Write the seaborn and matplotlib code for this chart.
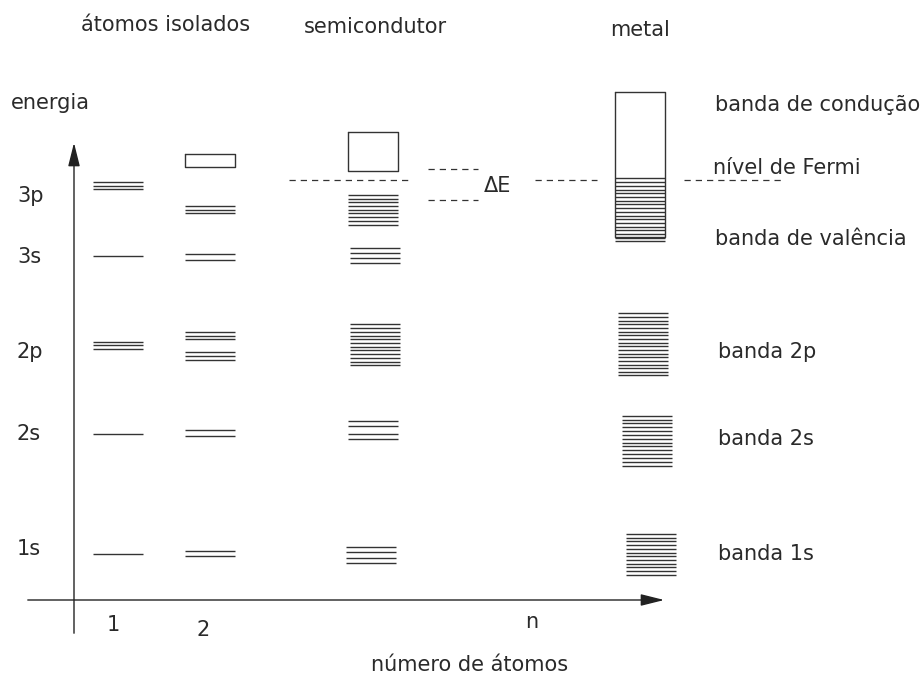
import matplotlib
matplotlib.use("Agg")
import matplotlib.pyplot as plt
import seaborn as sns
import pandas as pd

sns.set_theme(style="white")
plt.rcParams['font.family'] = ['DejaVu Sans']

# ---- level data (pixel-like diagram coordinates) ----
atom1_levels = [182, 186, 189, 256, 342, 345, 349, 434, 554]
atom2_levels = [206, 210, 213, 254, 260, 332, 336, 339, 352, 356, 360, 430, 436, 551, 556]
semi_3p = [195, 198.7, 202.3, 206, 209.7, 213.3, 217.3, 221, 224.7]
semi_3s = [248, 253, 258, 263]
semi_2p = [324.3, 327.7, 332, 335.7, 339.3, 343, 346.7, 350.3, 354, 357.7, 361.7, 365.3]
semi_2s = [421, 426.3, 433.7, 439]
semi_1s = [547, 552.3, 558, 563.3]
metal_val = [178.3, 182, 185.7, 189.5, 193.2, 197, 200.6, 204.4, 208.1, 211.8, 215.5, 219.3,
             223, 226.7, 230.4, 234, 237.5, 241.2]
metal_2p = [313.3, 317, 320.6, 324.3, 328, 331.6, 335.3, 339, 342.6, 346.3, 350, 353.6,
            357.3, 361, 364.6, 368.3, 371.7, 375]
metal_2s = [415.7, 419.5, 423.3, 427.2, 431, 434.8, 438.7, 442.5, 446.3, 450.2, 454, 457.8,
            461.8, 465.7]
metal_1s = [534, 537.7, 541.4, 545.1, 548.8, 552.5, 556.3, 560, 563.7, 567.4, 571.1, 575]

groups = [
    ("atom1", 93, 143, atom1_levels),
    ("atom2", 185, 235, atom2_levels),
    ("semi_3p", 348, 398, semi_3p),
    ("semi_3s", 350, 400, semi_3s),
    ("semi_2p", 350, 400, semi_2p),
    ("semi_2s", 348, 398, semi_2s),
    ("semi_1s", 346, 396, semi_1s),
    ("metal_val", 615, 665, metal_val),
    ("metal_2p", 618, 668, metal_2p),
    ("metal_2s", 622, 672, metal_2s),
    ("metal_1s", 626, 676, metal_1s),
]
rows = []
for name, x0, x1, ys in groups:
    for y in ys:
        rows.append({"group": name, "x0": x0, "x1": x1, "y": y})
levels = pd.DataFrame(rows)

# empty boxes (conduction levels): x0, x1, y_top, y_bottom
boxes = [(185.3, 235.3, 154.3, 167.3), (348.3, 398.3, 132.3, 171), (614.7, 664.7, 91.7, 236.7)]

axis_labels = ["3p", "3s", "2p", "2s", "1s"]
axis_label_y = [196, 257, 352, 434, 549]
band_labels = ["banda de condução", "nível de Fermi", "banda de valência",
               "banda 2p", "banda 2s", "banda 1s"]
band_label_y = [105, 168, 239, 352, 439, 554]
band_label_x = [715, 713, 715, 718, 718, 718]

fig = plt.figure(figsize=(9.24, 6.75), dpi=100)
ax = fig.add_axes([0, 0, 1, 1])
ax.set_xlim(0, 924)
ax.set_ylim(675, 0)
ax.axis("off")

lc = "#333333"
ax.hlines(levels["y"], levels["x0"], levels["x1"], color=lc, lw=1.0)
for x0, x1, yt, yb in boxes:
    ax.plot([x0, x1, x1, x0, x0], [yt, yt, yb, yb, yt], color=lc, lw=1.0)

# Fermi level dashed lines
dash = dict(color=lc, lw=0.9, ls=(0, (5, 4)))
ax.plot([289, 410], [180, 180], **dash)
ax.plot([428, 478], [169, 169], **dash)
ax.plot([428, 478], [200, 200], **dash)
ax.plot([535, 597], [180, 180], **dash)
ax.plot([684, 782], [180, 180], **dash)

fs = 15
tc = "#2a2a2a"
ax.text(484, 186, "ΔE", fontsize=fs, color=tc, va="center", ha="left")

# axes arrows
ax.annotate("", xy=(74, 140), xytext=(74, 636),
            arrowprops=dict(arrowstyle="-|>,head_length=1.2,head_width=0.3", color="#222", lw=1.0))
ax.annotate("", xy=(667, 600), xytext=(25, 600),
            arrowprops=dict(arrowstyle="-|>,head_length=1.2,head_width=0.3", color="#222", lw=1.0))

ax.text(166, 25, "átomos isolados", fontsize=fs, ha="center", va="center", color=tc)
ax.text(375, 27, "semicondutor", fontsize=fs, ha="center", va="center", color=tc)
ax.text(640, 30, "metal", fontsize=fs, ha="center", va="center", color=tc)
ax.text(11, 103, "energia", fontsize=fs, ha="left", va="center", color=tc)
for lab, y in zip(axis_labels, axis_label_y):
    ax.text(17, y, lab, fontsize=fs, ha="left", va="center", color=tc)
for lab, x, y in zip(band_labels, band_label_x, band_label_y):
    ax.text(x, y, lab, fontsize=fs, ha="left", va="center", color=tc)
ax.text(113, 625, "1", fontsize=fs, ha="center", va="center", color=tc)
ax.text(203, 630, "2", fontsize=fs, ha="center", va="center", color=tc)
ax.text(532, 622, "n", fontsize=fs, ha="center", va="center", color=tc)
ax.text(470, 665, "número de átomos", fontsize=fs, ha="center", va="center", color=tc)

fig.savefig("out.png", dpi=100, facecolor="white")
